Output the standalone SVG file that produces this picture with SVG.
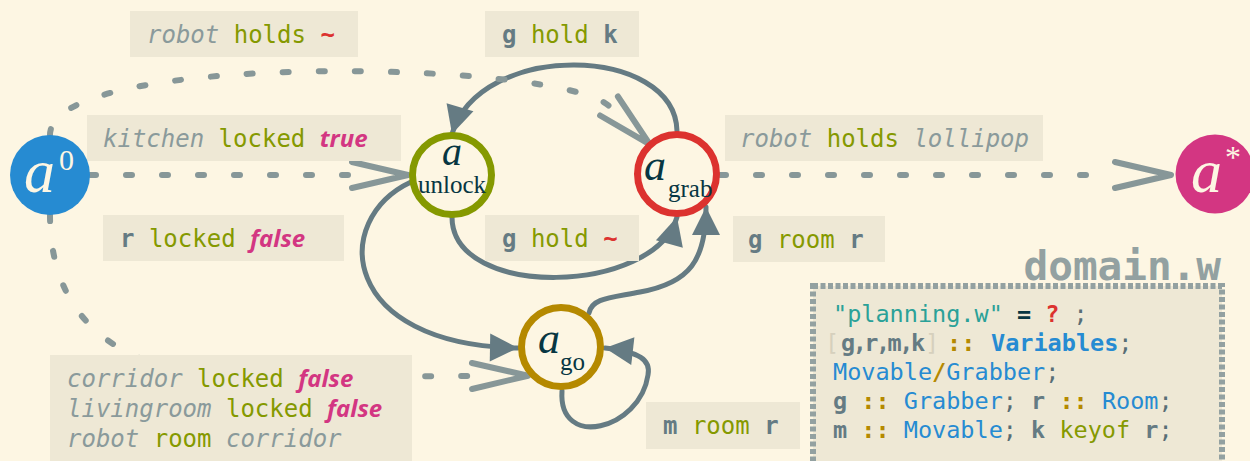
<svg xmlns="http://www.w3.org/2000/svg" width="1250" height="461" viewBox="0 0 1250 461">
<defs>
<style>
.bg{fill:#fdf6e3}
.lbl{fill:#eee8d5}
.mono{font-family:"DejaVu Sans Mono",monospace;font-size:24px;fill:#657b83}
.code{font-family:"DejaVu Sans Mono",monospace;font-size:23.5px;fill:#586e75}
.it{font-style:italic;fill:#8a9a9b}
.kw{fill:#859900}
.var{font-weight:bold;fill:#657b83}
.bool{font-family:"Open Sans","Liberation Sans",sans-serif;font-style:italic;font-weight:bold;fill:#d33682}
.tl{font-weight:bold;fill:#dc322f}
.str{fill:#2aa198}
.ty{fill:#268bd2}
.op{font-weight:bold;fill:#b58900}
.solid{fill:none;stroke:#657b83;stroke-width:5;stroke-linecap:round}
.dash{fill:none;stroke:#879798;stroke-width:6;stroke-linecap:round;stroke-dasharray:6 30}
.ring{fill:#fdf6e3;stroke-width:7}
.nm{font-family:"Liberation Serif",serif;font-style:italic;fill:#073642}
.sub{font-family:"Liberation Serif",serif;fill:#073642}
</style>
<marker id="tri" markerUnits="userSpaceOnUse" markerWidth="40" markerHeight="40" refX="0" refY="0" orient="auto" style="overflow:visible">
<path d="M0,0 L-28,-14 L-28,14 Z" fill="#657b83"/>
</marker>
<marker id="chev" markerUnits="userSpaceOnUse" markerWidth="70" markerHeight="40" refX="0" refY="0" orient="auto" style="overflow:visible">
<path d="M0,-13 L56,0 L0,13" fill="none" stroke="#879798" stroke-width="6" stroke-linecap="round" stroke-linejoin="round"/>
</marker>
</defs>
<rect class="bg" x="0" y="0" width="1250" height="461"/>

<g id="connectors">
<path class="solid" d="M677,131 C675,45 480,40 452,134" marker-end="url(#tri)"/>
<path class="solid" d="M452,217 C452,300 655,295 677,217" marker-end="url(#tri)"/>
<path class="solid" d="M411,182 C330,220 340,345 518,348" marker-end="url(#tri)"/>
<path class="solid" d="M589,313 C592,298 610,298 640,292 C690,283 706,260 706,207" marker-end="url(#tri)"/>
<path class="solid" d="M562,391 C558,450 640,430 648,375 C651,360 640,352 605,348" marker-end="url(#tri)"/>
<path class="dash" d="M90,175 L352,175" marker-end="url(#chev)"/>
<path class="dash" d="M50,135 C50,50 560,60 609,106" marker-end="url(#chev)"/>
<path class="dash" d="M50,215 C50,320 120,377 250,377 L472,376" marker-end="url(#chev)"/>
<path class="dash" d="M720,175 L1115,175" marker-end="url(#chev)"/>
</g>

<g id="label-robot-holds">
<rect class="lbl" x="130" y="11" width="228" height="46"/>
<text class="mono" x="147" y="43" xml:space="preserve"><tspan class="it">robot</tspan> <tspan class="kw">holds</tspan> <tspan class="tl">~</tspan></text>
</g>
<g id="label-g-hold-k">
<rect class="lbl" x="485" y="11" width="154" height="46"/>
<text class="mono" x="502" y="43" xml:space="preserve"><tspan class="var">g</tspan> <tspan class="kw">hold</tspan> <tspan class="var">k</tspan></text>
</g>
<g id="label-kitchen">
<rect class="lbl" x="87" y="115" width="314" height="46"/>
<text class="mono" x="103" y="147" xml:space="preserve"><tspan class="it">kitchen</tspan> <tspan class="kw">locked</tspan> <tspan class="bool">true</tspan></text>
</g>
<g id="label-lollipop">
<rect class="lbl" x="725" y="115" width="318" height="46"/>
<text class="mono" x="740" y="147" xml:space="preserve"><tspan class="it">robot</tspan> <tspan class="kw">holds</tspan> <tspan class="it">lollipop</tspan></text>
</g>
<g id="label-r-locked">
<rect class="lbl" x="103" y="215" width="241" height="46"/>
<text class="mono" x="120" y="247" xml:space="preserve"><tspan class="var">r</tspan> <tspan class="kw">locked</tspan> <tspan class="bool">false</tspan></text>
</g>
<g id="label-g-hold-tilde">
<rect class="lbl" x="485" y="215" width="154" height="46"/>
<text class="mono" x="502" y="247" xml:space="preserve"><tspan class="var">g</tspan> <tspan class="kw">hold</tspan> <tspan class="tl">~</tspan></text>
</g>
<g id="label-g-room-r">
<rect class="lbl" x="733" y="216" width="152" height="46"/>
<text class="mono" x="748" y="248" xml:space="preserve"><tspan class="var">g</tspan> <tspan class="kw">room</tspan> <tspan class="var">r</tspan></text>
</g>
<g id="label-m-room-r">
<rect class="lbl" x="646" y="402" width="154" height="47"/>
<text class="mono" x="663" y="434" xml:space="preserve"><tspan class="var">m</tspan> <tspan class="kw">room</tspan> <tspan class="var">r</tspan></text>
</g>
<g id="label-corridor">
<rect class="lbl" x="50" y="355" width="362" height="115"/>
<text class="mono" x="67" y="387" xml:space="preserve"><tspan class="it">corridor</tspan> <tspan class="kw">locked</tspan> <tspan class="bool">false</tspan></text>
<text class="mono" x="67" y="417" xml:space="preserve"><tspan class="it">livingroom</tspan> <tspan class="kw">locked</tspan> <tspan class="bool">false</tspan></text>
<text class="mono" x="67" y="447" xml:space="preserve"><tspan class="it">robot</tspan> <tspan class="kw">room</tspan> <tspan class="it">corridor</tspan></text>
</g>

<g id="node-a0">
<circle cx="50" cy="175" r="40" fill="#268bd2"/>
<text class="nm" x="24" y="192" font-size="62" style="fill:#fdf6e3">a</text>
<text class="sub" x="59" y="170" font-size="30" style="fill:#fdf6e3">0</text>
</g>
<g id="node-unlock">
<circle class="ring" cx="452" cy="175" r="39.5" stroke="#859900"/>
<text class="nm" x="452" y="165" font-size="40" text-anchor="middle">a</text>
<text class="sub" x="452" y="193" font-size="25" text-anchor="middle">unlock</text>
</g>
<g id="node-grab">
<circle class="ring" cx="677" cy="174" r="39.5" stroke="#dc322f"/>
<text class="nm" x="644" y="180" font-size="44">a</text>
<text class="sub" x="668" y="197" font-size="25">grab</text>
</g>
<g id="node-go">
<circle class="ring" cx="561" cy="347" r="39.5" stroke="#b58900"/>
<text class="nm" x="538" y="353" font-size="44">a</text>
<text class="sub" x="560" y="370" font-size="25">go</text>
</g>
<g id="node-astar">
<circle cx="1215" cy="174" r="39.5" fill="#d33682"/>
<text class="nm" x="1191" y="192" font-size="62" style="fill:#fdf6e3">a</text>
<text class="sub" x="1225" y="168" font-size="32" style="fill:#fdf6e3">*</text>
</g>

<g id="domain">
<rect x="813" y="286" width="409" height="200" fill="#eee8d5" stroke="#93a1a1" stroke-width="6" stroke-dasharray="5 2.5"/>
<text x="1221" y="280" font-family="DejaVu Sans Mono, monospace" font-weight="bold" font-size="41" fill="#93a1a1" text-anchor="end">domain.w</text>
<text class="code" x="833" y="322" xml:space="preserve"><tspan class="str">"planning.w"</tspan> <tspan font-weight="bold" fill="#073642">=</tspan> <tspan font-weight="bold" fill="#dc322f">?</tspan> ;</text>
<text class="code" y="351"><tspan x="825" fill="#d6d0bd">[</tspan><tspan x="841" class="var" letter-spacing="-2.5">g,r,m,k</tspan><tspan x="925" fill="#d6d0bd">]</tspan><tspan x="947" class="op">::</tspan><tspan x="991" class="ty" font-weight="bold">Variables</tspan><tspan>;</tspan></text>
<text class="code" x="833" y="380"><tspan class="ty">Movable</tspan><tspan class="op">/</tspan><tspan class="ty">Grabber</tspan>;</text>
<text class="code" x="833" y="409" xml:space="preserve"><tspan class="var">g</tspan> <tspan class="op">::</tspan> <tspan class="ty">Grabber</tspan>; <tspan class="var">r</tspan> <tspan class="op">::</tspan> <tspan class="ty">Room</tspan>;</text>
<text class="code" x="833" y="438" xml:space="preserve"><tspan class="var">m</tspan> <tspan class="op">::</tspan> <tspan class="ty">Movable</tspan>; <tspan class="var">k</tspan> <tspan class="kw">keyof</tspan> <tspan class="var">r</tspan>;</text>
</g>
</svg>
